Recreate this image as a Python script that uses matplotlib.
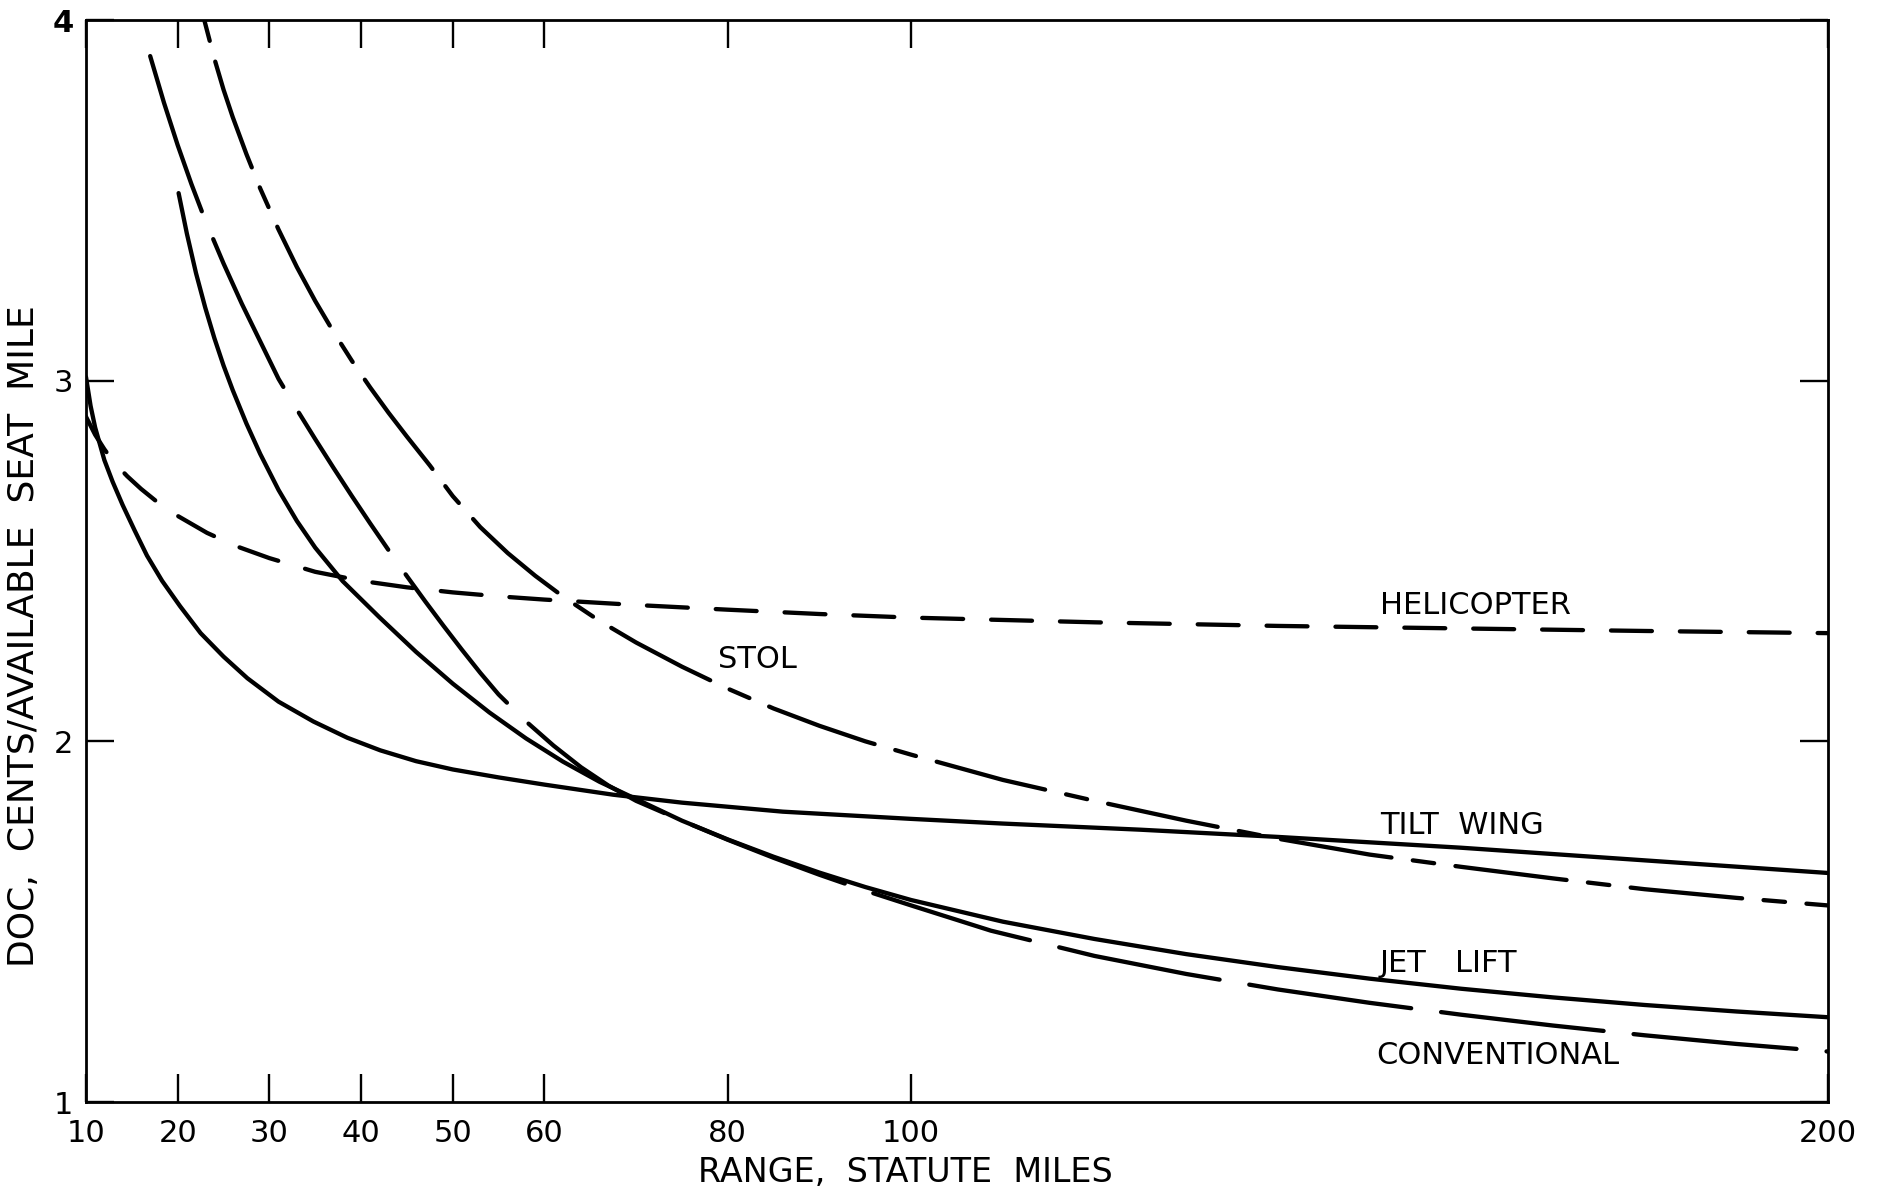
import matplotlib
matplotlib.use('Agg')
import matplotlib.pyplot as plt

# ---- data (range in statute miles, DOC in cents / available seat mile) ----
heli_x = [10, 11, 12, 13, 14.5, 16, 17.7, 20, 23.2, 26.5, 30, 35, 40, 45, 50, 55, 60, 70, 80, 90, 100, 120, 140,
          160, 180, 200]
heli_y = [2.90, 2.85, 2.81, 2.775, 2.735, 2.70, 2.665, 2.625, 2.578, 2.54, 2.508, 2.47, 2.445, 2.427, 2.413,
          2.402, 2.393, 2.378, 2.365, 2.353, 2.343, 2.33, 2.32, 2.313, 2.306, 2.30]

tilt_x = [10, 10.5, 11, 12, 12.9, 14, 15.3, 16.65, 18.3, 20.25, 22.5, 25, 27.6, 31, 34.8, 38.5, 42.1, 46, 50, 55,
          60, 67.5, 75, 86, 100, 110, 125, 140, 160, 180, 200]
tilt_y = [3.01, 2.93, 2.87, 2.78, 2.72, 2.655, 2.585, 2.515, 2.445, 2.375, 2.30, 2.235, 2.175, 2.11, 2.055, 2.01,
          1.975, 1.945, 1.922, 1.90, 1.88, 1.852, 1.83, 1.805, 1.785, 1.772, 1.755, 1.735, 1.705, 1.67, 1.635]

jet_x = [20.1, 21, 22, 23, 24, 25, 26, 27.5, 29, 31, 33, 35, 38, 42, 46, 50, 54, 58, 62, 66, 70, 75, 80, 85, 90,
         95, 100, 110, 120, 130, 140, 150, 160, 170, 180, 190, 200]
jet_y = [3.52, 3.408, 3.298, 3.203, 3.118, 3.042, 2.974, 2.881, 2.797, 2.697, 2.611, 2.537, 2.444, 2.344, 2.248,
         2.16, 2.08, 2.008, 1.944, 1.888, 1.84, 1.78, 1.728, 1.68, 1.636, 1.596, 1.56, 1.50, 1.452, 1.41, 1.374,
         1.342, 1.314, 1.29, 1.269, 1.251, 1.235]

conv_x = [17.0, 18.5, 20, 21.5, 23, 25, 27, 29, 31, 33, 35, 37, 39, 41, 43, 45, 47, 49, 51, 53, 55, 58, 61, 64,
          67, 70, 75, 80, 85, 90, 95, 100, 108.7, 120, 130, 140, 150, 160, 170, 180, 190, 200]
conv_y = [3.90, 3.771, 3.653, 3.545, 3.445, 3.325, 3.213, 3.109, 3.005, 2.92, 2.838, 2.758, 2.68, 2.604, 2.53,
          2.458, 2.388, 2.32, 2.254, 2.19, 2.13, 2.055, 1.988, 1.928, 1.877, 1.835, 1.78, 1.727, 1.677, 1.63,
          1.586, 1.545, 1.475, 1.405, 1.355, 1.312, 1.275, 1.242, 1.212, 1.185, 1.161, 1.14]

stol_x = [22.9, 24, 25, 26, 27.5, 29, 31, 33, 35, 37, 39, 41, 43, 45, 47.5, 50, 53, 56, 59, 62, 66, 70, 75, 80,
          85, 90, 95, 100, 110, 120, 130, 140, 150, 160, 170, 180, 190, 200]
stol_y = [4.0, 3.893, 3.807, 3.731, 3.628, 3.533, 3.419, 3.315, 3.221, 3.135, 3.055, 2.981, 2.911, 2.845, 2.765,
          2.68, 2.594, 2.522, 2.459, 2.402, 2.334, 2.274, 2.207, 2.146, 2.091, 2.043, 2.0, 1.963, 1.893, 1.835,
          1.78, 1.73, 1.686, 1.652, 1.62, 1.59, 1.566, 1.545]

x_ticks = [10, 20, 30, 40, 50, 60, 80, 100, 200]
x_tick_labels = ['10', '20', '30', '40', '50', '60', '80', '100', '200']
y_ticks = [1, 2, 3, 4]
y_tick_labels = ['1', '2', '3', '4']

labels = ['HELICOPTER', 'STOL', 'TILT  WING', 'JET   LIFT', 'CONVENTIONAL']
label_x = [151.1, 78.9, 151.1, 151.1, 150.7]
label_y = [2.376, 2.226, 1.766, 1.383, 1.128]

# ---- figure ----
fig = plt.figure(figsize=(18.81, 12.01), dpi=100)
ax = fig.add_axes([86 / 1881, 1 - 1102 / 1201, 1742 / 1881, 1082 / 1201])
ax.set_xlim(10, 200)
ax.set_ylim(1, 4)

lw = 3.1
common = dict(color='black', lw=lw, dash_capstyle='round', solid_capstyle='round',
              solid_joinstyle='round', dash_joinstyle='round')
ax.plot(heli_x, heli_y, linestyle=(0, (9.5, 6.5)), **common)
ax.plot(tilt_x, tilt_y, linestyle='-', **common)
ax.plot(jet_x, jet_y, linestyle='-', **common)
ax.plot(conv_x, conv_y, linestyle=(0, (38, 7)), **common)
ax.plot(stol_x, stol_y, linestyle=(0, (5, 5, 26, 5)), **common)

for t, x, y in zip(labels, label_x, label_y):
    ax.text(x, y, t, fontsize=22, ha='left', va='center', color='black')

ax.set_xticks(x_ticks)
ax.set_xticklabels(x_tick_labels)
ax.set_yticks(y_ticks)
ax.set_yticklabels(y_tick_labels)
ax.tick_params(axis='both', direction='in', length=20, width=1.7, top=True, right=True,
               labelsize=22, colors='black')
ax.tick_params(axis='x', pad=12)
ax.tick_params(axis='y', pad=9)
ax.get_yticklabels()[-1].set_fontweight('bold')

for s in ax.spines.values():
    s.set_linewidth(2.0)
    s.set_color('black')

fig.text(24 / 1881, 1 - 636 / 1201, 'DOC,  CENTS/AVAILABLE  SEAT  MILE', rotation=90,
         ha='center', va='center', fontsize=26)
fig.text(905 / 1881, 1 - 1173 / 1201, 'RANGE,  STATUTE  MILES', ha='center', va='center', fontsize=24)

fig.savefig('out.png', dpi=100, facecolor='white')
